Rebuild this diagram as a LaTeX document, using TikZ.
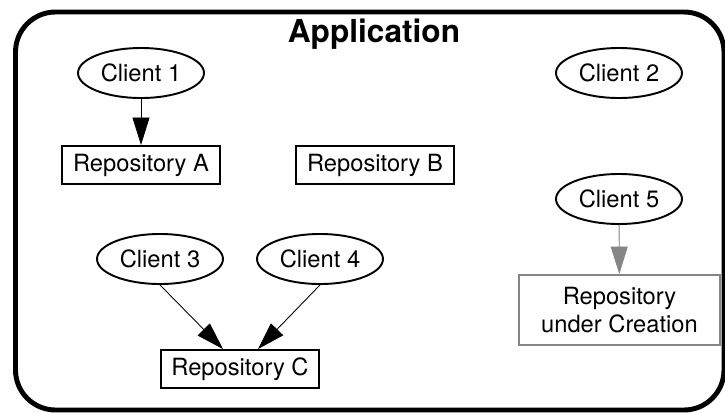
\documentclass[tikz,border=0pt]{standalone}
\usepackage{fontspec}
\setmainfont{TeX Gyre Heros}
\usetikzlibrary{arrows.meta,shapes.geometric}
\definecolor{pending}{gray}{0.52}

\begin{document}
\begin{tikzpicture}[x=0.02cm, y=-0.02cm,
  client/.style = {draw, ellipse, line width=1.1pt, inner xsep=2.4pt, inner ysep=4.9pt, minimum width=2.52cm, font=\fontsize{13.5}{16}\selectfont},
  repo/.style = {draw, rectangle, line width=1.1pt, minimum width=3.16cm, minimum height=0.76cm, inner sep=0pt, align=center, font=\fontsize{13.5}{16}\selectfont},
  link/.style = {-{Triangle[length=0.55cm,width=0.34cm]}, line width=0.5pt}]
\useasboundingbox (0,0) rectangle (725,413);
\draw[line width=2.8pt, rounded corners=0.8cm] (15.5,12) rectangle (724,410);
\node[font=\fontsize{18}{20}\selectfont\bfseries] (app) at (374,34) {Application};
\node[client] (c1) at (141,73) {Client 1};
\node[client] (c2) at (619,73) {Client 2};
\node[repo] (ra) at (141,165) {Repository A};
\node[repo] (rb) at (375,165) {Repository B};
\node[client] (c5) at (619,199) {Client 5};
\node[repo, draw=pending, minimum width=4.02cm, minimum height=1.4cm] (rn) at (619.5,310) {Repository\\under Creation};
\node[client] (c3) at (160,259) {Client 3};
\node[client] (c4) at (320,259) {Client 4};
\node[repo] (rc) at (240,369) {Repository C};
\draw[link] (c1) -- (ra);
\draw[link] (c3.south) -- ([xshift=-0.34cm]rc.north);
\draw[link] (c4.south) -- ([xshift=0.36cm]rc.north);
\draw[link, draw=pending, fill=pending] (c5) -- (rn);
\end{tikzpicture}
\end{document}
